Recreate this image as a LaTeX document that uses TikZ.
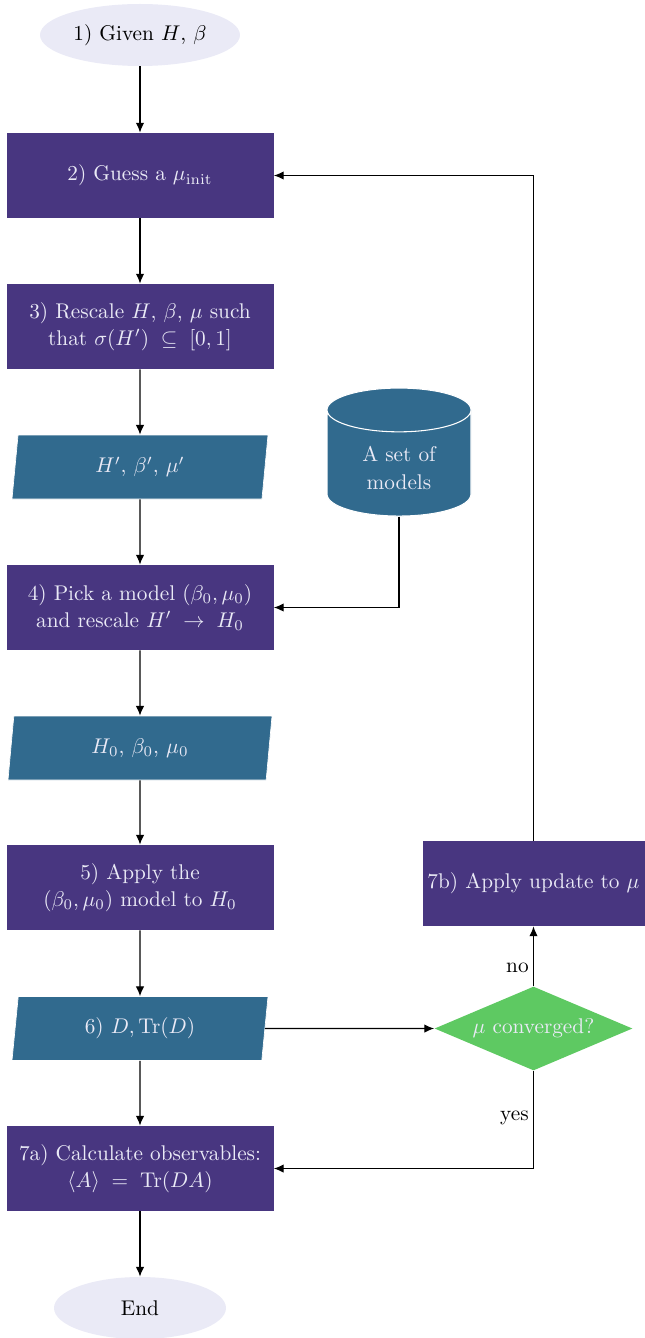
\documentclass[tikz,border=0pt]{standalone}
\usetikzlibrary{shapes.geometric,shapes.symbols,arrows.meta}
\definecolor{purp}{RGB}{72,54,128}
\definecolor{tealc}{RGB}{49,106,142}
\definecolor{grn}{RGB}{94,201,98}
\definecolor{lav}{RGB}{234,234,246}
\def\pxu{0.47pt}
\begin{document}
\begin{tikzpicture}[x=0.47pt,y=-0.47pt,
  every node/.style={font=\fontsize{10pt}{12.8pt}\selectfont},
  term/.style={ellipse, fill=lav, text=black, minimum height=62*\pxu, inner sep=0pt},
  proc/.style={rectangle, fill=purp, text=lav, align=center, minimum width=267*\pxu, minimum height=85*\pxu, inner sep=2pt},
  data/.style={trapezium, trapezium left angle=80, trapezium right angle=100, trapezium stretches body, fill=tealc, draw=white, line width=0.3pt, text=lav, minimum height=64*\pxu, minimum width=256*\pxu},
  db/.style={cylinder, shape border rotate=90, aspect=0.5, fill=tealc, draw=white, line width=0.5pt, text=lav, align=center, minimum width=144*\pxu, minimum height=128*\pxu},
  dec/.style={diamond, fill=grn, text=lav, aspect=2.36, inner sep=0pt, minimum width=198*\pxu, minimum height=84*\pxu},
  arr/.style={-{Latex[length=4.6pt,width=4pt]}, line width=0.55pt, black},
  lbl/.style={text=black, inner sep=2pt}
]
\useasboundingbox (0,0) rectangle (644,1338);
\node[term, minimum width=200*\pxu] (e1) at (140,35) {1) Given $H$, $\beta$};
\node[proc] (b2) at (140,175.5) {2) Guess a $\mu_{\mathrm{init}}$};
\node[proc] (b3) at (140,326.5) {3) Rescale $H$, $\beta$, $\mu$ such\\that $\sigma(H')\;\subseteq\;[0,1]$};
\node[data] (p1) at (140,467) {$H'$, $\beta'$, $\mu'$};
\node[db] (db) at (399,468) {A set of\\models};
\node[proc] (b4) at (140,607.5) {4) Pick a model $(\beta_0,\mu_0)$\\and rescale $H'\;\to\;H_0$};
\node[data, minimum width=264*\pxu] (p2) at (140,748) {$H_0$, $\beta_0$, $\mu_0$};
\node[proc] (b5) at (140,887.5) {5) Apply the\\$(\beta_0,\mu_0)$ model to $H_0$};
\node[data] (p3) at (140,1028.5) {6) $D,\mathrm{Tr}(D)$};
\node[proc] (b7a) at (140,1168.5) {7a) Calculate observables:\\$\langle A\rangle\;=\;\mathrm{Tr}(DA)$};
\node[term, minimum width=172*\pxu] (end) at (140,1308) {End};
\node[dec] (dec) at (533.5,1028.5) {$\mu$ converged?};
\node[proc, minimum width=222*\pxu] (b7b) at (533.5,883.5) {7b) Apply update to $\mu$};

\draw[arr] (e1) -- (b2);
\draw[arr] (b2) -- (b3);
\draw[arr] (b3) -- (p1);
\draw[arr] (p1) -- (b4);
\draw[arr] (b4) -- (p2);
\draw[arr] (p2) -- (b5);
\draw[arr] (b5) -- (p3);
\draw[arr] (p3) -- (b7a);
\draw[arr] (b7a) -- (end);
\draw[arr] (p3.east) -- (dec.west);
\draw[arr] (dec.north) -- node[lbl, left, pos=0.3] {no} (b7b.south);
\draw[arr] (dec.south) |- node[lbl, left, pos=0.24] {yes} (b7a.east);
\draw[arr] (b7b.north) |- (b2.east);
\draw[arr] (db.south) |- (b4.east);
\end{tikzpicture}
\end{document}
